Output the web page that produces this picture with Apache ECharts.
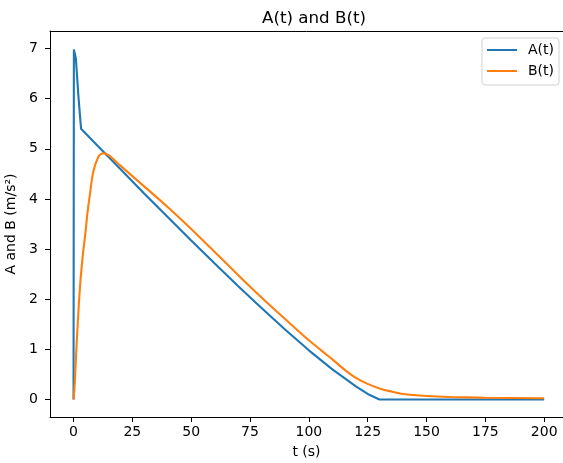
<!DOCTYPE html>
<html>
<head>
<meta charset="utf-8">
<script src="https://cdn.jsdelivr.net/npm/echarts@6/dist/echarts.min.js"></script>
<style>
  html, body { margin: 0; padding: 0; background: #fff; }
  #chart { width: 563px; height: 463px; }
</style>
</head>
<body>
<div id="chart"></div>
<script>
// 时间轴 (s) 与两条曲线的读数
const timeA = [0, 0.15, 0.5, 1, 1.5, 2, 2.5, 3.2, 10, 20, 30, 40, 50, 60, 70, 80, 90, 100, 110, 120, 125, 130, 200]
const valueA = [0, 6.98, 7.0, 6.8, 6.45, 6.1, 5.8, 5.4, 5.07, 4.59, 4.11, 3.64, 3.17, 2.71, 2.26, 1.82, 1.39, 0.98, 0.6, 0.26, 0.11, 0, 0]
const timeB = [0, 0.5, 1, 2, 3, 4, 5, 6, 7, 8, 9, 10, 11, 12.7, 15, 20, 30, 40, 50, 60, 70, 80, 90, 100, 110, 115, 120, 125, 130, 135, 140, 150, 160, 175, 200]
const valueB = [0, 0.3, 0.8, 1.7, 2.4, 2.9, 3.3, 3.75, 4.1, 4.45, 4.65, 4.78, 4.87, 4.91, 4.87, 4.66, 4.25, 3.84, 3.4, 2.94, 2.48, 2.03, 1.6, 1.18, 0.8, 0.6, 0.43, 0.31, 0.22, 0.16, 0.11, 0.07, 0.05, 0.035, 0.025]
const xTicks = [0, 25, 50, 75, 100, 125, 150, 175, 200]
const yTicks = [0, 1, 2, 3, 4, 5, 6, 7]

const myChart = echarts.init(document.getElementById('chart'))
const font = 'DejaVu Sans'
const textStyle = { fontFamily: font, fontSize: 14, color: '#000' }
const option = {
  animation: false,
  title: {
    text: 'A(t) and B(t)',
    left: 309,
    top: 5,
    textAlign: 'center',
    textStyle: { fontFamily: font, fontSize: 16.7, fontWeight: 'normal', color: '#000' },
  },
  legend: {
    orient: 'vertical',
    right: 4,
    top: 38,
    padding: [5, 5, 7, 5],
    itemGap: 7,
    itemWidth: 30,
    itemHeight: 2,
    icon: 'rect',
    borderColor: '#d0d0d0',
    borderWidth: 1,
    borderRadius: 3,
    backgroundColor: 'rgba(255,255,255,0.8)',
    textStyle: { ...textStyle, padding: [0, 0, 0, 6] },
    data: ['A(t)', 'B(t)'],
  },
  grid: {
    left: 50,
    right: 0,
    top: 31,
    bottom: 46,
    containLabel: false,
    outerBoundsMode: 'none',
  },
  xAxis: [
    {
      type: 'value',
      min: -10,
      max: 208,
      name: 't (s)',
      nameLocation: 'middle',
      nameGap: 28,
      nameTextStyle: textStyle,
      axisLine: { show: true, onZero: false, lineStyle: { color: '#000', width: 1 } },
      axisTick: { show: true, length: 5, customValues: xTicks, lineStyle: { color: '#000' } },
      axisLabel: { customValues: xTicks, margin: 8, ...textStyle },
      splitLine: { show: false },
    },
    {
      // 顶部边框
      type: 'value',
      position: 'top',
      min: -10,
      max: 208,
      axisLine: { show: true, onZero: false, lineStyle: { color: '#000', width: 1 } },
      axisTick: { show: false },
      axisLabel: { show: false },
      splitLine: { show: false },
    },
  ],
  yAxis: {
    type: 'value',
    min: -0.35,
    max: 7.35,
    name: 'A and B (m/s²)',
    nameLocation: 'middle',
    nameGap: 23,
    nameTextStyle: textStyle,
    axisLine: { show: true, onZero: false, lineStyle: { color: '#000', width: 1 } },
    axisTick: { show: true, length: 5, customValues: yTicks, lineStyle: { color: '#000' } },
    axisLabel: { customValues: yTicks, margin: 12, ...textStyle },
    splitLine: { show: false },
  },
  series: [
    {
      name: 'A(t)',
      type: 'line',
      showSymbol: false,
      smooth: false,
      color: '#1f77b4',
      lineStyle: { width: 2.1, color: '#1f77b4' },
      data: timeA.map((t, i) => [t, valueA[i]]),
    },
    {
      name: 'B(t)',
      type: 'line',
      showSymbol: false,
      smooth: 0.3,
      color: '#ff7f0e',
      lineStyle: { width: 2.1, color: '#ff7f0e' },
      data: timeB.map((t, i) => [t, valueB[i]]),
    },
  ],
}
myChart.setOption(option)
</script>
</body>
</html>
